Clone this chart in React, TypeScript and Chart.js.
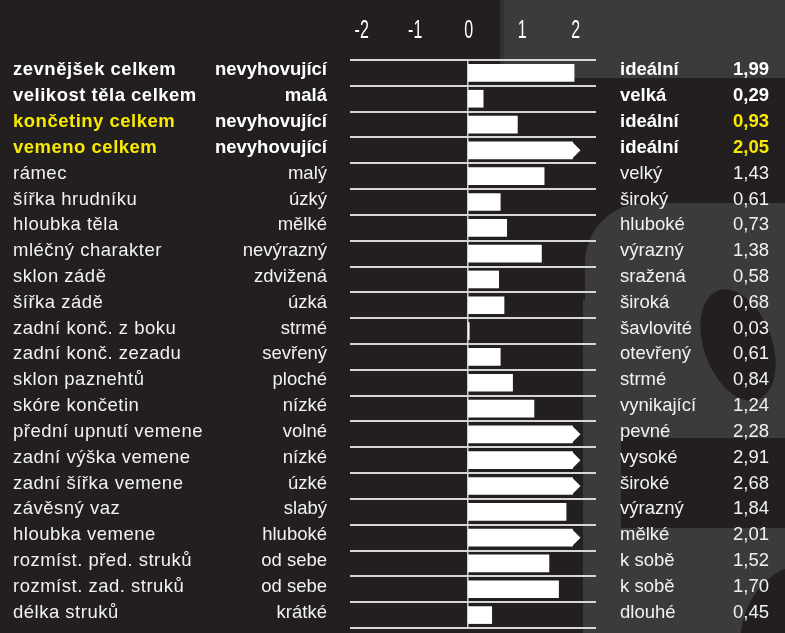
import { useEffect, useRef } from "react";
import { Chart, registerables } from "chart.js";

Chart.register(...registerables);

const traits = [
  "zevnějšek celkem",
  "velikost těla celkem",
  "končetiny celkem",
  "vemeno celkem",
  "rámec",
  "šířka hrudníku",
  "hloubka těla",
  "mléčný charakter",
  "sklon zádě",
  "šířka zádě",
  "zadní konč. z boku",
  "zadní konč. zezadu",
  "sklon paznehtů",
  "skóre končetin",
  "přední upnutí vemene",
  "zadní výška vemene",
  "zadní šířka vemene",
  "závěsný vaz",
  "hloubka vemene",
  "rozmíst. před. struků",
  "rozmíst. zad. struků",
  "délka struků",
];

const leftLabels = [
  "nevyhovující", "malá", "nevyhovující", "nevyhovující", "malý", "úzký", "mělké",
  "nevýrazný", "zdvižená", "úzká", "strmé", "sevřený", "ploché", "nízké", "volné",
  "nízké", "úzké", "slabý", "hluboké", "od sebe", "od sebe", "krátké",
];

const rightLabels = [
  "ideální", "velká", "ideální", "ideální", "velký", "široký", "hluboké",
  "výrazný", "sražená", "široká", "šavlovité", "otevřený", "strmé", "vynikající",
  "pevné", "vysoké", "široké", "výrazný", "mělké", "k sobě", "k sobě", "dlouhé",
];

const values = [
  1.99, 0.29, 0.93, 2.05, 1.43, 0.61, 0.73, 1.38, 0.58, 0.68, 0.03,
  0.61, 0.84, 1.24, 2.28, 2.91, 2.68, 1.84, 2.01, 1.52, 1.7, 0.45,
];

const xTicks = [-2, -1, 0, 1, 2];
const boldRows = [0, 1, 2, 3];
const yellowRows = [2, 3];

const ARROW_LIMIT = 2;
const ARROW_BODY = 1.96;
const ARROW_TIP = 2.11;

const BG = "#231f20";
const DECOR = "#3c3b3b";
const YELLOW = "#f7ea00";
const FONT = "'Liberation Sans', Arial, Helvetica, sans-serif";

const shownValues = values.map((v) => (v > ARROW_LIMIT ? ARROW_BODY : v));

const backgroundPlugin = {
  id: "bg",
  beforeDraw(chart: any) {
    const ctx = chart.ctx;
    const w = chart.width;
    const h = chart.height;
    ctx.save();
    ctx.fillStyle = BG;
    ctx.fillRect(0, 0, w, h);
    ctx.fillStyle = DECOR;
    // top right band
    ctx.fillRect(500, 0, w - 500, 78);
    ctx.fillStyle = "#333232";
    ctx.fillRect(500, 0, 4, 78);
    ctx.fillStyle = DECOR;
    // watermark letter
    ctx.beginPath();
    ctx.roundRect(585, 203, 240, 235, [60, 0, 0, 70]);
    ctx.fill();
    ctx.fillRect(583, 300, 38, 333);
    ctx.beginPath();
    ctx.roundRect(583, 528, 230, 120, [30, 0, 0, 0]);
    ctx.fill();
    ctx.fillStyle = BG;
    ctx.beginPath();
    ctx.ellipse(738, 345, 34, 58, -0.35, 0, Math.PI * 2);
    ctx.fill();
    ctx.beginPath();
    ctx.ellipse(805, 645, 65, 80, 0, 0, Math.PI * 2);
    ctx.fill();
    ctx.restore();
  },
};

const overlayPlugin = {
  id: "overlay",
  afterDatasetsDraw(chart: any) {
    const ctx = chart.ctx;
    const xs = chart.scales.x;
    const meta = chart.getDatasetMeta(0);
    const tipLen = xs.getPixelForValue(ARROW_TIP) - xs.getPixelForValue(ARROW_BODY);
    ctx.save();
    ctx.fillStyle = "#ffffff";
    values.forEach((v, i) => {
      if (v <= ARROW_LIMIT) return;
      const bar: any = meta.data[i];
      const half = bar.height / 2;
      ctx.beginPath();
      ctx.moveTo(bar.x - 0.5, bar.y - half);
      ctx.lineTo(bar.x + tipLen, bar.y);
      ctx.lineTo(bar.x - 0.5, bar.y + half);
      ctx.closePath();
      ctx.fill();
    });
    ctx.restore();
  },
  afterDraw(chart: any) {
    const ctx = chart.ctx;
    const xs = chart.scales.x;
    const ys = chart.scales.y;
    ctx.save();
    // condensed tick labels of the top axis
    ctx.fillStyle = "#ffffff";
    ctx.font = `25px ${FONT}`;
    ctx.textAlign = "center";
    ctx.textBaseline = "alphabetic";
    xs.ticks.forEach((t: any) => {
      const x = xs.getPixelForValue(t.value) + 1;
      ctx.save();
      ctx.translate(x, 38);
      ctx.scale(0.64, 1);
      ctx.fillText(String(t.value), 0, 0);
      ctx.restore();
    });

    traits.forEach((t, i) => {
      const y = ys.getPixelForValue(i) + 2.5;
      const bold = boldRows.includes(i);
      const yellow = yellowRows.includes(i);
      const white = bold ? "#ffffff" : "#f2f2f2";
      ctx.font = `${bold ? "bold " : ""}18.5px ${FONT}`;
      ctx.fillStyle = yellow ? YELLOW : white;
      ctx.textAlign = "left";
      (ctx as any).letterSpacing = "0.5px";
      ctx.fillText(t, 13, y);
      (ctx as any).letterSpacing = "0px";
      ctx.fillStyle = white;
      ctx.textAlign = "right";
      ctx.fillText(leftLabels[i], 327, y);
      ctx.textAlign = "left";
      ctx.fillText(rightLabels[i], 620, y);
      ctx.textAlign = "right";
      ctx.fillStyle = yellow ? YELLOW : white;
      ctx.fillText(values[i].toFixed(2).replace(".", ","), 769, y);
    });
    ctx.restore();
  },
};

export default function App() {
  const ref = useRef<HTMLCanvasElement | null>(null);

  useEffect(() => {
    document.body.style.margin = "0";
    if (!ref.current) return;
    const chart = new Chart(ref.current, {
      type: "bar",
      data: {
        labels: traits,
        datasets: [
          {
            data: shownValues,
            backgroundColor: "#ffffff",
            borderWidth: 0,
            barThickness: 17,
          },
        ],
      },
      options: {
        indexAxis: "y",
        animation: false,
        responsive: false,
        maintainAspectRatio: false,
        layout: { padding: { left: 350, right: 189, top: 0, bottom: 5 } },
        plugins: {
          legend: { display: false },
          tooltip: { enabled: false },
        },
        scales: {
          x: {
            position: "top",
            min: -2.2,
            max: 2.4,
            afterBuildTicks: (s: any) => {
              s.ticks = xTicks.map((v) => ({ value: v }));
            },
            afterFit: (s: any) => {
              s.height = 60;
            },
            ticks: { display: false },
            grid: {
              drawTicks: false,
              color: (c: any) => (c.tick && c.tick.value === 0 ? "#cfcfcf" : "rgba(0,0,0,0)"),
              lineWidth: 1.5,
            },
            border: { display: false },
          },
          y: {
            ticks: { display: false },
            afterFit: (s: any) => {
              s.width = 0;
            },
            grid: {
              offset: true,
              drawTicks: false,
              color: "#d6d6d6",
              lineWidth: 2,
            },
            border: { display: false },
          },
        },
      },
      plugins: [backgroundPlugin, overlayPlugin],
    });
    return () => chart.destroy();
  }, []);

  return (
    <div style={{ width: 785, height: 633 }}>
      <canvas ref={ref} width={785} height={633} />
    </div>
  );
}
